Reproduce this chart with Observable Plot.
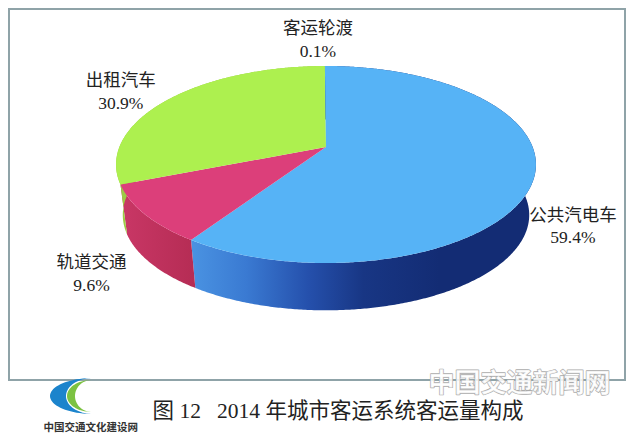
<!DOCTYPE html>
<html>
<head>
<meta charset="utf-8">
<script src="https://cdn.jsdelivr.net/npm/d3@7"></script>
<script src="https://cdn.jsdelivr.net/npm/@observablehq/plot@0.6"></script>
<style>html,body{margin:0;padding:0;background:#fff}svg{display:block}</style>
</head>
<body>
<div id="chart"></div>
<script>
// Data, clockwise from twelve o'clock
const categories = ["公共汽电车", "轨道交通", "出租汽车", "客运轮渡"];
const shares = [59.4, 9.6, 30.9, 0.1];
const shareLabels = ["59.4%", "9.6%", "30.9%", "0.1%"];
const title = "图 12\u2002 2014 年城市客运系统客运量构成";
const logoText = "中国交通文化建设网";
const watermark = "中国交通新闻网";

// Style
const topColors = ["#56B3F6", "#DC3F7A", "#ADF04F", "#56B3F6"];
const sideColors = ["url(#sideBlue)", "url(#sidePink)", "#9CCB45", "#1B3A8C"];
const FONT = '"Liberation Serif","Noto Sans CJK SC",serif';

// Perspective view of the disc
const C = {x: 326, y: 147, B: 206.6, A: 95.4, k: 0.1777, depth: 51, shrink: 0.968};
const project = (deg, r = 1) => {
  const a = deg * Math.PI / 180, X = r * Math.sin(a), Y = -r * Math.cos(a), w = 1 - C.k * Y;
  return {x: C.x + C.B * X / w, y: C.y + C.A * Y / w};
};
const lower = (p) => ({x: C.x + C.shrink * (p.x - C.x), y: C.y + C.depth + C.shrink * (p.y - C.y)});

const total = d3.sum(shares);
let acc = 0;
const wedges = categories.map((name, i) => {
  const start = acc / total * 360; acc += shares[i];
  return {name, i, start, end: acc / total * 360, label: shareLabels[i]};
});
const rim = [], side = [];
for (const w of wedges) {
  const n = Math.max(2, Math.ceil(w.end - w.start) * 2);
  for (let j = 0; j <= n; j++) {
    const p = project(w.start + (w.end - w.start) * j / n), q = lower(p);
    rim.push({i: w.i, x: p.x, y: p.y});
    side.push({i: w.i, x1: p.x, y1: p.y, x2: q.x, y2: q.y});
  }
}

// Label placement, tied to each wedge's middle angle
const labelNudge = [[38, 48], [-54, 57], [-50, -9], [-8, -28]];
const labels = wedges.map((w) => {
  const p = project((w.start + w.end) / 2);
  return {x: p.x + labelNudge[w.i][0], y: p.y + labelNudge[w.i][1], text: w.name + "\n" + w.label};
});

// Logo crescents
const crescent = (xr, ym, h, d1, d2) => d3.range(-1, 1.001, 0.05).map((t) => {
  const c = Math.cos(t * Math.PI / 2), s = Math.sin(t * Math.PI / 2);
  return {x1: xr - d1 * c, y1: ym + h * s, x2: xr - d2 * c, y2: ym + h * s};
});

const defs = () => {
  const svg = d3.create("svg:defs");
  const grad = (id, stops) => {
    const g = svg.append("linearGradient").attr("id", id).attr("x1", 0).attr("x2", 1).attr("y1", 0).attr("y2", 0);
    stops.forEach(([o, c]) => g.append("stop").attr("offset", o).attr("stop-color", c));
  };
  grad("sideBlue", [[0, "#4A93E2"], [0.16, "#3A7AD2"], [0.34, "#2550AC"], [0.5, "#183684"], [0.72, "#132C74"], [1, "#132C74"]]);
  grad("sidePink", [[0, "#C93766"], [1, "#B52C54"]]);
  return svg.node();
};

const chart = Plot.plot({
  width: 630, height: 433, margin: 0,
  x: {domain: [0, 630], range: [0, 630], axis: null},
  y: {domain: [0, 433], range: [0, 433], axis: null},
  marks: [
    defs,
    Plot.rect([0], {x1: 9, x2: 625, y1: 9, y2: 380, fill: "none", stroke: "#8FA3A8", strokeWidth: 2}),
    Plot.area(side, {x1: "x1", y1: "y1", x2: "x2", y2: "y2", z: "i", fill: (d) => sideColors[d.i]}),
    Plot.area(rim, {x1: "x", y1: "y", x2: () => C.x, y2: () => C.y, z: "i", fill: (d) => topColors[d.i]}),
    Plot.text(labels, {x: "x", y: "y", text: "text", fontSize: 17.5, lineHeight: 1.3, fill: "#222", fontFamily: FONT}),
    Plot.area(crescent(93, 396, 18, 43, 27), {x1: "x1", y1: "y1", x2: "x2", y2: "y2", fill: "#1C84CC"}),
    Plot.area(crescent(92, 396, 16, 25, 17), {x1: "x1", y1: "y1", x2: "x2", y2: "y2", fill: "#7CC242"}),
    Plot.text([logoText], {frameAnchor: "bottom-left", dx: 43, dy: -3, text: (d) => d, fontSize: 10.5, fontWeight: 700, fill: "#333", fontFamily: FONT}),
    Plot.text([watermark], {frameAnchor: "bottom-left", dx: 428, dy: -42, text: (d) => d, fontSize: 26, fontWeight: 700, fill: "#ffffff", fillOpacity: 0.85, stroke: "#ABABAB", strokeWidth: 1.3, fontFamily: '"Noto Sans CJK SC",sans-serif'}),
    Plot.text([title], {frameAnchor: "bottom-left", dx: 152, dy: -16, text: (d) => d, fontSize: 21.5, fill: "#222", fontFamily: FONT})
  ]
});
document.getElementById("chart").append(chart);
</script>
</body>
</html>
